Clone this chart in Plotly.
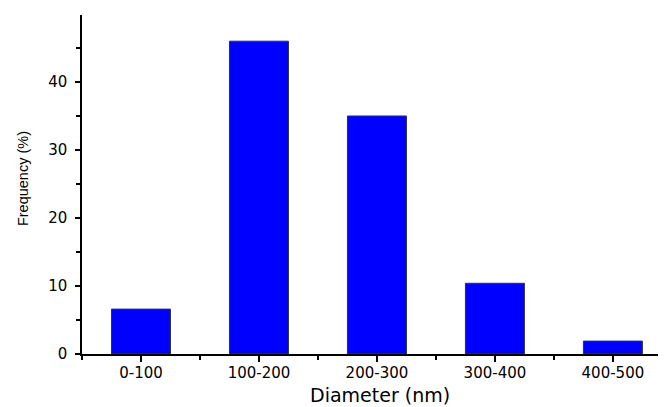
import plotly.graph_objects as go

categories = ["0-100", "100-200", "200-300", "300-400", "400-500"]
frequency = [6.6, 46.0, 35.0, 10.4, 1.9]
positions = list(range(len(categories)))
x_title = "Diameter (nm)"
y_title = "Frequency (%)"

fig = go.Figure(go.Bar(
    x=positions, y=frequency, width=0.5,
    marker=dict(color="#0000FF", line=dict(color="#333333", width=1)),
))

# page body has a default 8px margin, so the figure is sized/offset to compensate
fig.update_layout(
    width=658, height=399,
    margin=dict(l=74, r=0, t=7, b=53, autoexpand=False),
    paper_bgcolor="white", plot_bgcolor="white",
    showlegend=False,
    font=dict(family="DejaVu Sans, sans-serif", color="black"),
    annotations=[
        dict(text=x_title, xref="paper", yref="paper", x=0.51, y=0,
             xanchor="center", yanchor="middle", yshift=-41, showarrow=False,
             font=dict(size=19, family="DejaVu Sans", color="black")),
        dict(text=y_title, xref="paper", yref="paper", x=0, y=0.516,
             xanchor="center", yanchor="middle", xshift=-59, textangle=-90,
             showarrow=False,
             font=dict(size=14.5, family="Liberation Sans, Arial", color="black")),
    ],
)
fig.update_xaxes(
    range=[-0.5, 4.45], automargin=False,
    tickmode="array", tickvals=positions, ticktext=categories,
    ticks="outside", ticklen=6, tickwidth=1.5, tickcolor="black",
    ticklabelstandoff=-2,
    minor=dict(tickmode="array", tickvals=[-0.5, 0.5, 1.5, 2.5, 3.5],
               ticks="outside", ticklen=4, tickwidth=1.5, tickcolor="black"),
    showline=True, linecolor="black", linewidth=1.5,
    showgrid=False, zeroline=False,
    tickfont=dict(size=15),
)
fig.update_yaxes(
    range=[0, 49.85], automargin=False,
    tickmode="linear", tick0=0, dtick=10,
    ticks="outside", ticklen=5, tickwidth=1.5, tickcolor="black",
    ticklabelstandoff=5,
    minor=dict(tick0=0, dtick=5, ticks="outside", ticklen=4, tickwidth=1.5, tickcolor="black"),
    showline=True, linecolor="black", linewidth=1.5,
    showgrid=False, zeroline=False,
    tickfont=dict(size=15),
)

fig.write_html("out.html")
